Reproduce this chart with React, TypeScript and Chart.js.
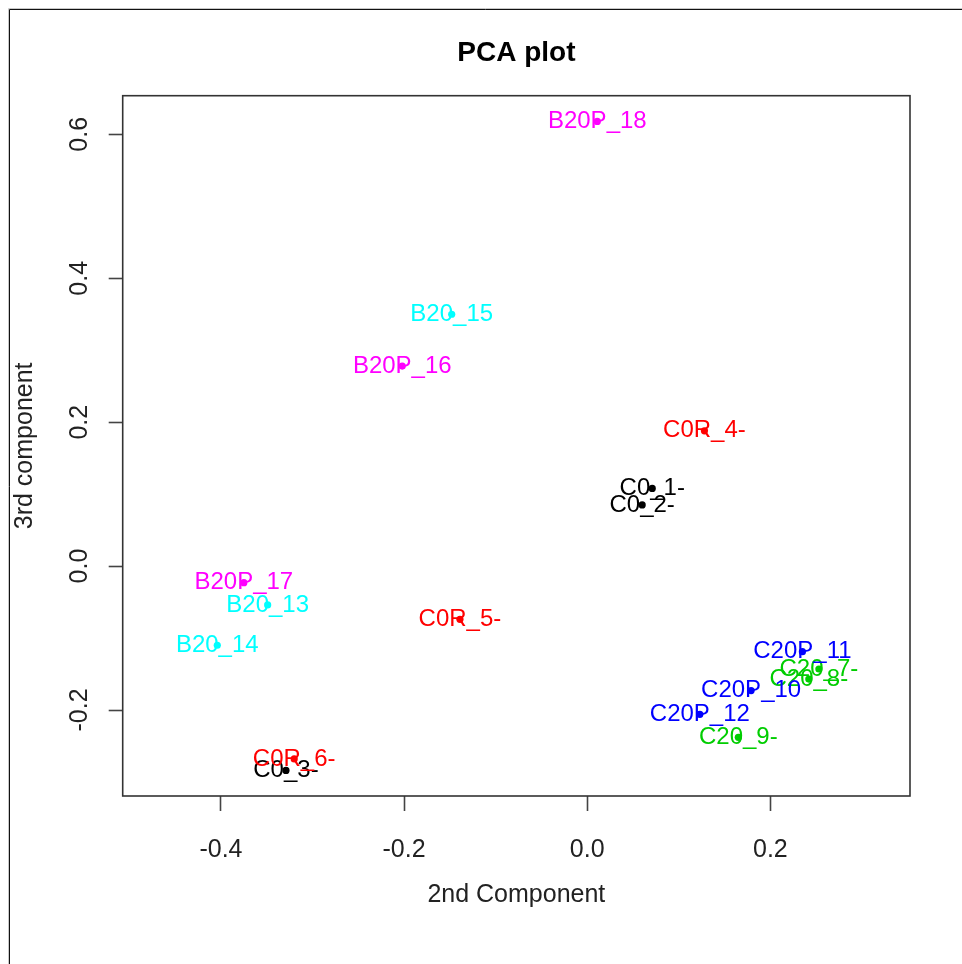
import React, { useEffect, useRef } from "react";
import { Chart, registerables } from "chart.js";

Chart.register(...registerables);

// ---- data ----
const sampleLabels = [
  "C0_1-", "C0_2-", "C0_3-",
  "C0R_4-", "C0R_5-", "C0R_6-",
  "C20_7-", "C20_8-", "C20_9-",
  "C20P_10", "C20P_11", "C20P_12",
  "B20_13", "B20_14", "B20_15",
  "B20P_16", "B20P_17", "B20P_18",
];
const pc2 = [
  0.071, 0.060, -0.329,
  0.128, -0.139, -0.320,
  0.253, 0.242, 0.165,
  0.179, 0.235, 0.123,
  -0.349, -0.404, -0.148,
  -0.202, -0.375, 0.011,
];
const pc3 = [
  0.108, 0.085, -0.284,
  0.188, -0.074, -0.268,
  -0.143, -0.157, -0.238,
  -0.173, -0.119, -0.206,
  -0.054, -0.110, 0.350,
  0.278, -0.023, 0.618,
];
const groups = [
  "C0", "C0", "C0",
  "C0R", "C0R", "C0R",
  "C20", "C20", "C20",
  "C20P", "C20P", "C20P",
  "B20", "B20", "B20",
  "B20P", "B20P", "B20P",
];
const groupColors: Record<string, string> = {
  C0: "#000000",
  C0R: "#FF0000",
  C20: "#00CD00",
  C20P: "#0000FF",
  B20: "#00FFFF",
  B20P: "#FF00FF",
};
const xTicks = [-0.4, -0.2, 0.0, 0.2];
const yTicks = [-0.2, 0.0, 0.2, 0.4, 0.6];
const xRange = [-0.5073, 0.3525];
const yRange = [-0.3195, 0.6537];

const FONT = '"Liberation Sans", Arial, Helvetica, sans-serif';

const pointLabelPlugin = {
  id: "pointLabels",
  beforeDatasetsDraw(chart: any) {
    const ctx = chart.ctx;
    const meta = chart.getDatasetMeta(0);
    ctx.save();
    ctx.font = `24px ${FONT}`;
    ctx.textAlign = "center";
    ctx.textBaseline = "middle";
    meta.data.forEach((el: any, i: number) => {
      ctx.fillStyle = groupColors[groups[i]];
      ctx.fillText(sampleLabels[i], el.x, el.y);
    });
    ctx.restore();
  },
};

const titleCenterPlugin = {
  id: "titleCenter",
  afterLayout(chart: any) {
    const tb = chart.titleBlock;
    const a = chart.chartArea;
    if (tb && a) {
      tb.left = a.left;
      tb.right = a.right;
    }
  },
};

const boxPlugin = {
  id: "boxFrame",
  afterDraw(chart: any) {
    const ctx = chart.ctx;
    const a = chart.chartArea;
    ctx.save();
    ctx.strokeStyle = "#333";
    ctx.lineWidth = 1.6;
    ctx.strokeRect(a.left, a.top, a.right - a.left, a.bottom - a.top);
    // outer image frame
    ctx.strokeStyle = "#c8c8c8";
    ctx.lineWidth = 1;
    ctx.beginPath();
    ctx.moveTo(8.5, chart.height);
    ctx.lineTo(8.5, 8.5);
    ctx.lineTo(chart.width, 8.5);
    ctx.stroke();
    ctx.strokeStyle = "#111";
    ctx.beginPath();
    ctx.moveTo(9.5, chart.height);
    ctx.lineTo(9.5, 9.5);
    ctx.lineTo(chart.width, 9.5);
    ctx.stroke();
    ctx.restore();
  },
};

export default function App() {
  const ref = useRef<HTMLCanvasElement | null>(null);

  useEffect(() => {
    if (!ref.current) return;
    const points = pc2.map((x, i) => ({ x, y: pc3[i] }));
    const colors = groups.map((g) => groupColors[g]);
    const chart = new Chart(ref.current, {
      type: "scatter",
      data: {
        datasets: [
          {
            label: "PCA",
            data: points,
            backgroundColor: colors,
            borderColor: colors,
            pointRadius: 3.6,
            pointHoverRadius: 3.6,
            borderWidth: 0,
          },
        ],
      },
      options: {
        responsive: false,
        animation: false,
        events: [],
        layout: { padding: { top: 0, right: 52, bottom: 0, left: 0 } },
        plugins: {
          legend: { display: false },
          tooltip: { enabled: false },
          title: {
            display: true,
            text: "PCA plot",
            color: "#000",
            font: { family: FONT, size: 28, weight: "bold", lineHeight: 1.2 },
            padding: { top: 36, bottom: 26.1 },
          },
        },
        scales: {
          x: {
            type: "linear",
            min: xRange[0],
            max: xRange[1],
            afterBuildTicks: (scale: any) => {
              scale.ticks = xTicks.map((v) => ({ value: v }));
            },
            afterFit: (scale: any) => {
              scale.height = 168;
            },
            border: { display: false },
            grid: {
              display: true,
              drawOnChartArea: false,
              drawTicks: true,
              tickLength: 15,
              tickColor: "#444",
              tickWidth: 1.6,
            },
            ticks: {
              color: "#222",
              font: { family: FONT, size: 25 },
              padding: 24,
              maxRotation: 0,
              minRotation: 0,
              autoSkip: false,
              callback: (v: any) => Number(v).toFixed(1),
            },
            title: {
              display: true,
              text: "2nd Component",
              color: "#222",
              font: { family: FONT, size: 25 },
              padding: { top: 0, bottom: 54 },
            },
          },
          y: {
            type: "linear",
            min: yRange[0],
            max: yRange[1],
            afterBuildTicks: (scale: any) => {
              scale.ticks = yTicks.map((v) => ({ value: v }));
            },
            afterFit: (scale: any) => {
              scale.width = 122.7;
            },
            border: { display: false },
            grid: {
              display: true,
              drawOnChartArea: false,
              drawTicks: true,
              tickLength: 14,
              tickColor: "#444",
              tickWidth: 1.6,
            },
            ticks: {
              color: "#222",
              font: { family: FONT, size: 25 },
              padding: 7,
              minRotation: 90,
              maxRotation: 90,
              crossAlign: "center",
              autoSkip: false,
              callback: (v: any) => Number(v).toFixed(1),
            },
            title: {
              display: true,
              text: "3rd component",
              color: "#222",
              font: { family: FONT, size: 25 },
              padding: { top: 10, bottom: 0 },
            },
          },
        },
      },
      plugins: [pointLabelPlugin, titleCenterPlugin, boxPlugin],
    } as any);
    return () => chart.destroy();
  }, []);

  return (
    <div style={{ position: "absolute", left: 0, top: 0, width: 962, height: 964, background: "#fff" }}>
      <canvas ref={ref} width={962} height={964} style={{ display: "block" }} />
    </div>
  );
}
